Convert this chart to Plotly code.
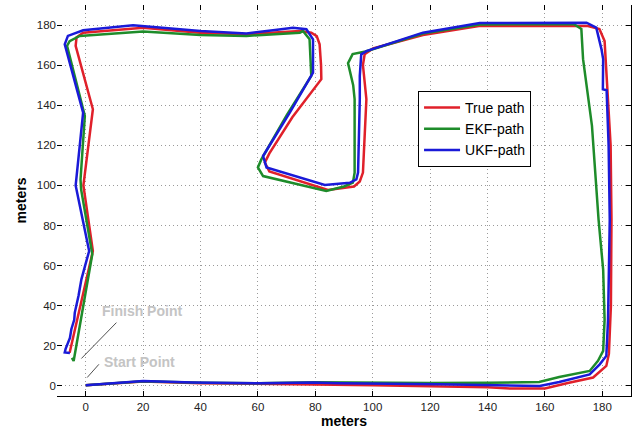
import plotly.graph_objects as go

# ---------------- data (meters) ----------------
true_x = [0, 20, 40, 60, 80, 100, 120, 140, 148, 160, 168, 176.8, 181.4, 182.3, 183, 183.2, 182.9, 182, 181.2,
          180.8, 179, 175, 137, 117.5, 100.1, 97.2, 96.6, 97.8, 96.6, 95.5, 93.5, 84.4, 64, 62.4, 64, 72, 82.1,
          82, 81.5, 80.5, 78.6, 74.6, 56, 39.7, 20, -0.9, -3.2, -3.5, 2.5, -0.8, 2.5, -5.6]
true_y = [0.3, 2.2, 1.4, 0.9, 0.7, 0.4, 0, -0.6, -1.3, -1.3, 1.5, 4.2, 10, 16, 40, 83, 120, 140, 163,
          172, 178, 179.5, 179.5, 175, 168.3, 165.4, 160, 143, 106.4, 102, 99.5, 97.8, 107, 111.4, 116, 134, 153,
          160, 170.4, 174.5, 176.2, 177, 175.4, 176.2, 178.7, 176.2, 173.8, 169.6, 138, 100, 67.3, 16.6]

ekf_x = [0, 20, 40, 60, 80, 100, 120, 140, 158, 165, 175.6, 178.5, 180.3, 180.8, 180.3, 178.7, 178, 176.4,
         173.3, 172.7, 170, 137.3, 117.5, 97.5, 93, 91.4, 93.2, 93.7, 93.7, 93.1, 90, 83.8, 61.8, 60, 61.2,
         70, 78.6, 78, 75.7, 74.6, 56, 40, 20, -2.1, -5.6, -6.5, -0.3, -1.8, -1.6, 2.3, -4.2, -4.8]
ekf_y = [0.3, 2.3, 1.6, 1.3, 1.8, 1.6, 1.5, 1.6, 2, 4.5, 7.5, 12.5, 17.5, 33, 58, 83, 96.5, 129.7,
         163, 178, 180.5, 180.3, 175.8, 166.8, 165.5, 161, 150, 143, 106.4, 101.4, 99.5, 97.3, 104.7, 109, 113,
         135, 154.6, 172.9, 177, 176.2, 174.6, 175, 176.8, 174.6, 172, 169.6, 134.7, 103, 98, 65.7, 12.5, 14]

ukf_x = [0, 20, 37.4, 60.6, 79.2, 88.5, 123.3, 140.8, 158.2, 165, 175.6, 179.1, 181.4, 182, 182.6, 182.2,
         182, 181.6, 181.5, 180.2, 180.3, 179.7, 177.9, 174.5, 160, 137.3, 117.5, 97.8, 96, 95.5, 95.5, 94.9,
         94.3, 92, 83.3, 63, 61.8, 71.1, 79.2, 79.2, 76.9, 72.2, 66, 56, 40, 22, 16.5, -0.9, -6.2, -7.3, -0.9,
         -3.5, 1.2, -0.2, -1.5, -2.5, -3.8, -4, -5, -5.5, -6.2, -7, -7.3, -5.5]
ukf_y = [0.3, 2.5, 1.7, 1.3, 1.7, 1.3, 0.8, 0.3, 0, 2, 5.8, 10.8, 15, 33, 83, 120,
         129.7, 140, 147.5, 148, 163, 168, 178.7, 181.2, 181, 181, 176.2, 167, 165.4, 154.6, 143, 106.4,
         103, 101.3, 100.2, 109, 114.7, 136.3, 156.3, 172.9, 177.9, 178.7, 177.5, 175.8, 177, 179.3, 179.9, 177.4, 174.6, 170.4, 136.3,
         100, 67.3, 60, 53.2, 45, 36.6, 33, 28.3, 24, 21.6, 18.5, 16.7, 16.5]

series_names = ["True path", "EKF-path", "UKF-path"]
series_colors = ["#e0202a", "#1e8c2a", "#1a1ad8"]

tick_vals = [0, 20, 40, 60, 80, 100, 120, 140, 160, 180]
x_range = [-10, 190]
y_range = [-5, 190]

label_texts = ["Finish Point", "Start Point"]
label_x = [19.5, 18.9]
label_y = [37.3, 11.8]
pointer_x0 = [10.7, 4.6]
pointer_y0 = [31.6, 10.8]
pointer_x1 = [-1.5, 0.5]
pointer_y1 = [13.7, 4.2]

FONT = "Liberation Sans, Arial, sans-serif"

fig = go.Figure()
for xs, ys, name, col in zip([true_x, ekf_x, ukf_x], [true_y, ekf_y, ukf_y], series_names, series_colors):
    fig.add_trace(go.Scatter(x=xs, y=ys, mode="lines", name=name,
                             line=dict(color=col, width=2.5)))

# dummy trace to realise the mirrored (tick-only / line-only) axes
fig.add_trace(go.Scatter(x=[None], y=[None], xaxis="x2", yaxis="y2", showlegend=False, hoverinfo="skip"))

for t, tx, ty in zip(label_texts, label_x, label_y):
    fig.add_annotation(x=tx, y=ty, xref="x", yref="y", text=t, showarrow=False,
                       font=dict(family=FONT, size=14, color="#c4c4c4", weight="bold"))
for x0, y0, x1, y1 in zip(pointer_x0, pointer_y0, pointer_x1, pointer_y1):
    fig.add_shape(type="line", x0=x0, y0=y0, x1=x1, y1=y1, xref="x", yref="y",
                  line=dict(color="#505050", width=1))

axis_common = dict(tickvals=tick_vals, ticks="inside", ticklen=5, tickcolor="#000", tickwidth=1,
                   zeroline=False)
grid_style = dict(showgrid=True, gridcolor="#9a9a9a", griddash="1px,3px", gridwidth=1)

fig.update_layout(
    width=638, height=432,
    margin=dict(l=57, r=7, t=5, b=36),
    paper_bgcolor="white", plot_bgcolor="white",
    font=dict(family=FONT, size=11.5, color="#222"),
    xaxis=dict(range=x_range, showline=True, linecolor="#000", linewidth=1.3,
               title=dict(text="<b>meters</b>", font=dict(size=14, color="#000"), standoff=4),
               **grid_style, **axis_common),
    yaxis=dict(range=y_range, showline=False,
               title=dict(text="<b>meters</b>", font=dict(size=14, color="#000"), standoff=6),
               **grid_style, **axis_common),
    xaxis2=dict(range=x_range, overlaying="x", side="top", showticklabels=False, showgrid=False,
                showline=False, **axis_common),
    yaxis2=dict(range=y_range, overlaying="y", side="right", showticklabels=False, showgrid=False,
                showline=True, linecolor="#000", linewidth=1.3, **axis_common),
    legend=dict(x=0.629, y=0.78, xanchor="left", yanchor="top", bgcolor="white",
                bordercolor="#000", borderwidth=1, font=dict(size=14, color="#000"),
                tracegroupgap=0, itemwidth=36, entrywidth=90),
    showlegend=True,
)

fig.write_html("out.html")
